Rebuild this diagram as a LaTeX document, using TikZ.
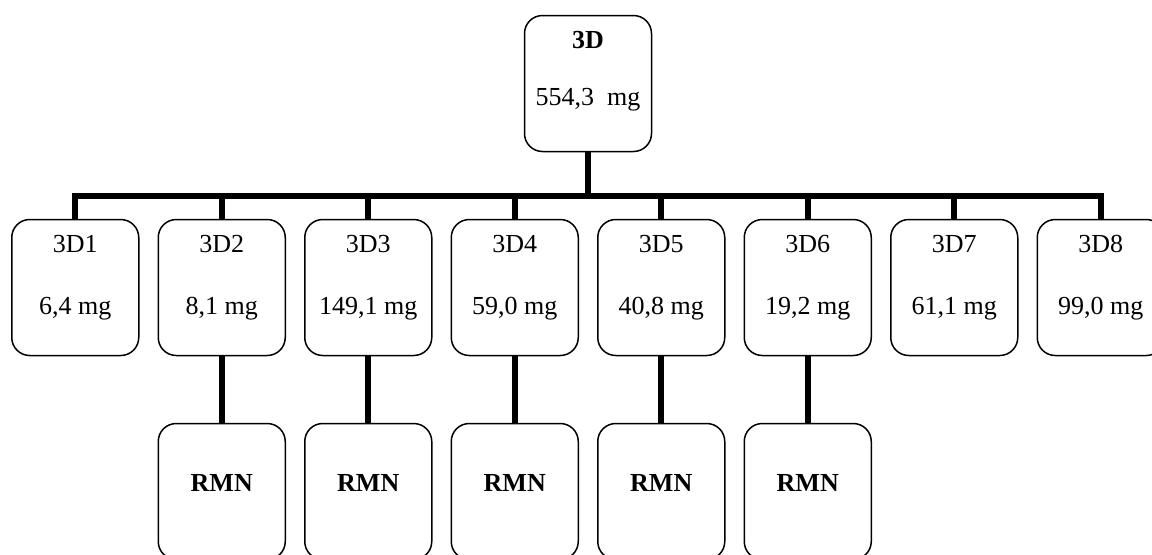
\documentclass[tikz,border=0pt]{standalone}
\usepackage{fontspec}
\setmainfont{Liberation Serif}

\newcommand{\twoline}[3]{\vbox to 68pt{\offinterlineskip\kern16.6pt\hbox to 63.5pt{\hss\smash{#2}\hss}\kern#1\hbox to 63.5pt{\hss\smash{#3}\hss}\vfil}}
\newcommand{\oneline}[1]{\vbox to 68pt{\offinterlineskip\kern34pt\hbox to 63.5pt{\hss\smash{#1}\hss}\vfil}}

\tikzset{
    sample/.style={draw, line width=0.75pt, rounded corners=9pt, inner sep=0pt,
        minimum width=63.5pt, minimum height=68pt, font=\fontsize{13}{15.6}\selectfont},
    link/.style={draw, line width=2.8pt},
}

\begin{document}
\begin{tikzpicture}[
        level distance=102pt,
        every node/.style={sample},
        edge from parent/.style={link},
        level 1/.style={sibling distance=73.25pt,
            edge from parent path={(\tikzparentnode.south) -- ++(0,-22pt) -| (\tikzchildnode.north)}},
        level 2/.style={edge from parent path={(\tikzparentnode.south) -- (\tikzchildnode.north)}},
    ]
        \fill[white] (0,0) rectangle (576pt,-277pt);
        \useasboundingbox (0,0) rectangle (576pt,-277pt);
        \node (root) at (294pt,-41.75pt) {\twoline{28.4pt}{\textbf{3D}}{554,3\ \ mg}}
            child { node (c1) {\twoline{31pt}{3D1}{6,4 mg}} }
            child {
                node (c2) {\twoline{31pt}{3D2}{8,1 mg}}
                child { node (r2) {\oneline{\textbf{RMN}}} }
            }
            child {
                node (c3) {\twoline{31pt}{3D3}{149,1 mg}}
                child { node (r3) {\oneline{\textbf{RMN}}} }
            }
            child {
                node (c4) {\twoline{31pt}{3D4}{59,0 mg}}
                child { node (r4) {\oneline{\textbf{RMN}}} }
            }
            child {
                node (c5) {\twoline{31pt}{3D5}{40,8 mg}}
                child { node (r5) {\oneline{\textbf{RMN}}} }
            }
            child {
                node (c6) {\twoline{31pt}{3D6}{19,2 mg}}
                child { node (r6) {\oneline{\textbf{RMN}}} }
            }
            child { node (c7) {\twoline{31pt}{3D7}{61,1 mg}} }
            child { node (c8) {\twoline{31pt}{3D8}{99,0 mg}} };
    \end{tikzpicture}
\end{document}
